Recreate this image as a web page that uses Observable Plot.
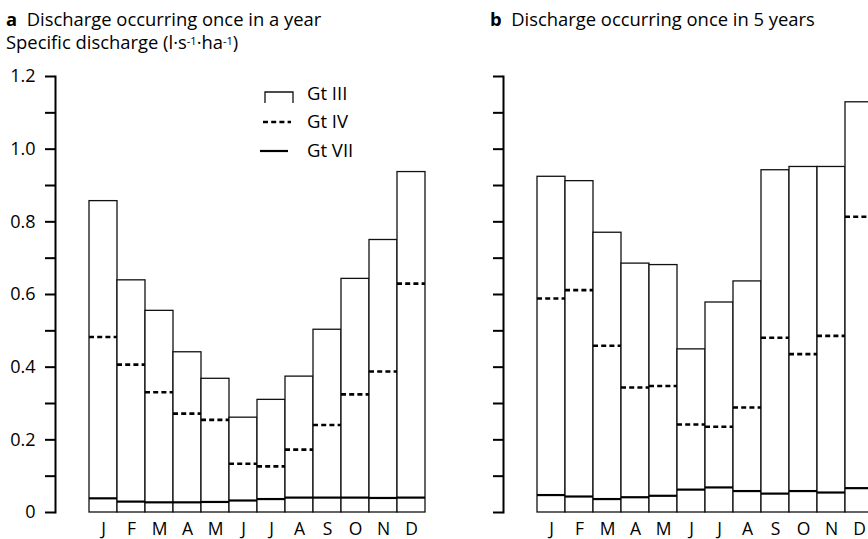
<!DOCTYPE html>
<html>
<head>
<meta charset="utf-8">
<script src="https://cdn.jsdelivr.net/npm/d3@7"></script>
<script src="https://cdn.jsdelivr.net/npm/@observablehq/plot@0.6"></script>
<style>
  html, body { margin: 0; padding: 0; background: white; overflow: hidden; }
  #page { position: relative; width: 868px; height: 539px; overflow: hidden; background: white;
          font-family: "Open Sans", sans-serif; color: #000; }
  .title { position: absolute; font-size: 18.4px; line-height: 22px; height: 22px; white-space: nowrap; }
  .title b { font-weight: 700; }
  sup { font-size: 0.6em; vertical-align: 0.4em; line-height: 0; }
  #charts { position: absolute; left: 0; top: 56px; width: 900px; height: 483px; display: flex; }
  #charts svg text { font-size: 18px; }
  #charts svg g[aria-label="x-axis tick label"] text { font-size: 17.5px; }
  #legend { position: absolute; left: 258px; top: 84px; font-size: 18.5px; }
  .lg { position: absolute; white-space: nowrap; }
</style>
</head>
<body>
<div id="page">
  <div class="title" style="left:6px; top:8px;"><b>a</b>&nbsp; Discharge occurring once in a year</div>
  <div class="title" style="left:6px; top:31px;">Specific discharge (l·s<sup>-1</sup>·ha<sup>-1</sup>)</div>
  <div class="title" style="left:490px; top:8px;"><b>b</b>&nbsp; Discharge occurring once in 5 years</div>
  <div id="charts"></div>
  <div id="legend"></div>
</div>
<script>
const months = ["J","F","M","A","M","J","J","A","S","O","N","D"];

// Panel a: discharge occurring once in a year
const gt3A = [0.857,0.639,0.555,0.441,0.368,0.261,0.310,0.374,0.503,0.643,0.750,0.937];
const gt4A = [0.483,0.407,0.331,0.272,0.255,0.134,0.127,0.173,0.241,0.325,0.388,0.630];
const gt7A = [0.039,0.030,0.028,0.028,0.029,0.033,0.037,0.041,0.041,0.041,0.040,0.041];

// Panel b: discharge occurring once in 5 years
const gt3B = [0.924,0.912,0.770,0.685,0.681,0.449,0.578,0.636,0.942,0.951,0.951,1.129];
const gt4B = [0.589,0.612,0.459,0.344,0.348,0.242,0.236,0.289,0.481,0.436,0.486,0.814];
const gt7B = [0.048,0.044,0.037,0.042,0.046,0.063,0.069,0.059,0.052,0.059,0.055,0.067];

const yTicks = [0,0.1,0.2,0.3,0.4,0.5,0.6,0.7,0.8,0.9,1.0,1.1,1.2];
const yTickLabels = ["0","","0.2","","0.4","","0.6","","0.8","","1.0","","1.2"];

const legendNames = ["Gt III","Gt IV","Gt VII"];

function panel(gt3, gt4, gt7, xRange, labels) {
  const data = months.map((m, i) => ({i, m, gt3: gt3[i], gt4: gt4[i], gt7: gt7[i]}));
  return Plot.plot({
    width: 448, height: 483,
    marginTop: 20, marginBottom: 27, marginLeft: 55, marginRight: 0,
    style: {fontFamily: "Open Sans, sans-serif", fontSize: "18px", color: "#000", background: "white"},
    x: {type: "band", domain: d3.range(12), range: xRange, padding: 0, label: null},
    y: {domain: [0, 1.2], label: null},
    marks: [
      Plot.barY(data, {x: "i", y: "gt3", fill: "white", stroke: "#111", strokeWidth: 1.3}),
      Plot.tickY(data, {x: "i", y: "gt4", stroke: "#000", strokeWidth: 2.6, strokeDasharray: "5,3.2"}),
      Plot.tickY(data, {x: "i", y: "gt7", stroke: "#000", strokeWidth: 2.2}),
      Plot.frame({anchor: "left", stroke: "#000", strokeWidth: 2}),
      Plot.axisY({ticks: yTicks, tickSize: 10, tickPadding: 10, strokeWidth: 2, label: null,
        tickFormat: (d) => labels ? yTickLabels[yTicks.indexOf(d)] : ""}),
      Plot.axisX({tickSize: 0, tickPadding: 10, label: null, tickFormat: (i) => months[i]})
    ]
  });
}

const charts = document.getElementById("charts");
charts.appendChild(panel(gt3A, gt4A, gt7A, [87, 426], true));
charts.appendChild(panel(gt3B, gt4B, gt7B, [89, 425], false));

// Legend (in panel a)
const lg = d3.select("#legend");
const rows = [10, 38, 67];
legendNames.forEach((name, k) => {
  const row = lg.append("div").attr("class", "lg").style("left", "0px").style("top", (rows[k] - 12) + "px");
  const svg = row.append("svg").attr("width", 40).attr("height", 24).style("position", "absolute").style("left", "0px").style("top", "0px");
  if (k === 0) {
    svg.append("path").attr("d", "M7,21 V10 H35 V21").attr("fill", "none").attr("stroke", "#111").attr("stroke-width", 1.3);
  } else if (k === 1) {
    svg.append("line").attr("x1", 5).attr("x2", 33).attr("y1", 12).attr("y2", 12)
      .attr("stroke", "#000").attr("stroke-width", 2.6).attr("stroke-dasharray", "5,3.2");
  } else {
    svg.append("line").attr("x1", 2).attr("x2", 30).attr("y1", 12).attr("y2", 12)
      .attr("stroke", "#000").attr("stroke-width", 2.2);
  }
  row.append("span").text(name).style("position", "absolute").style("left", "49px").style("top", "-1px").style("line-height", "24px");
});
</script>
</body>
</html>
